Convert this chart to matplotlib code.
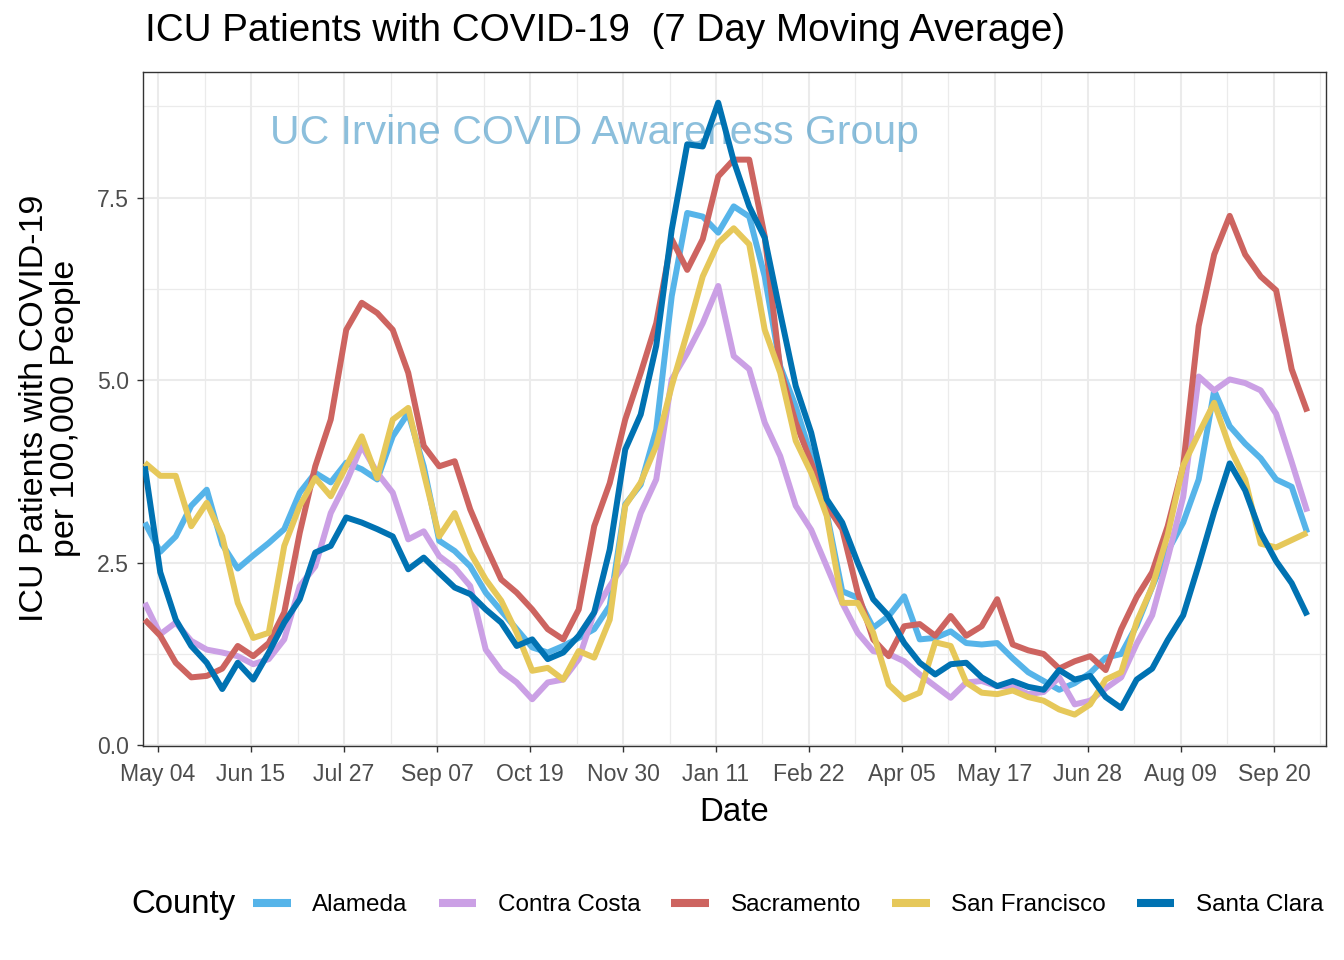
import matplotlib
matplotlib.use("Agg")
import matplotlib.pyplot as plt
import matplotlib.dates as mdates
from matplotlib.lines import Line2D
import pandas as pd

plt.rcParams['font.family'] = ['Liberation Sans', 'DejaVu Sans']

# ---- data (weekly samples) ----
dates = pd.date_range("2020-04-28", periods=76, freq="7D")

alameda = [3.05, 2.65, 2.86, 3.28, 3.5, 2.75, 2.42, 2.6, 2.77, 2.96,
           3.46, 3.73, 3.6, 3.87, 3.78, 3.64, 4.23, 4.55, 3.82, 2.8,
           2.66, 2.45, 2.09, 1.84, 1.59, 1.34, 1.27, 1.36, 1.47, 1.59,
           1.91, 3.3, 3.57, 4.32, 6.15, 7.29, 7.24, 7.02, 7.38, 7.24,
           6.42, 5.19, 4.64, 3.96, 3.18, 2.11, 2.02, 1.61, 1.77, 2.04,
           1.45, 1.47, 1.56, 1.4, 1.38, 1.4, 1.19, 1.0, 0.88, 0.76,
           0.85, 0.99, 1.2, 1.25, 1.64, 2.17, 2.66, 3.05, 3.64, 4.86,
           4.37, 4.13, 3.93, 3.64, 3.54, 2.91]

contra_costa = [1.95, 1.52, 1.68, 1.43, 1.31, 1.27, 1.22, 1.11, 1.18, 1.45,
                2.18, 2.45, 3.18, 3.6, 4.1, 3.73, 3.46, 2.82, 2.93, 2.59,
                2.43, 2.18, 1.31, 1.02, 0.86, 0.63, 0.86, 0.9, 1.18, 1.82,
                2.18, 2.5, 3.18, 3.64, 5.01, 5.37, 5.78, 6.29, 5.33, 5.15,
                4.42, 3.96, 3.28, 2.95, 2.45, 1.95, 1.54, 1.29, 1.25, 1.15,
                0.97, 0.81, 0.65, 0.86, 0.88, 0.81, 0.8, 0.7, 0.73, 0.93,
                0.56, 0.61, 0.78, 0.93, 1.39, 1.78, 2.56, 3.4, 5.05, 4.86,
                5.01, 4.96, 4.86, 4.54, 3.88, 3.2]

sacramento = [1.72, 1.5, 1.13, 0.93, 0.95, 1.05, 1.36, 1.22, 1.4, 1.82,
              2.91, 3.82, 4.46, 5.69, 6.06, 5.92, 5.69, 5.1, 4.1, 3.82,
              3.89, 3.23, 2.73, 2.27, 2.09, 1.86, 1.59, 1.45, 1.86, 3.0,
              3.59, 4.46, 5.1, 5.78, 6.93, 6.51, 6.93, 7.79, 8.02, 8.02,
              6.97, 5.15, 4.42, 3.87, 3.28, 2.96, 2.09, 1.45, 1.22, 1.63,
              1.66, 1.5, 1.77, 1.5, 1.63, 2.0, 1.38, 1.3, 1.25, 1.05,
              1.15, 1.22, 1.03, 1.59, 2.03, 2.37, 3.0, 3.83, 5.74, 6.72,
              7.25, 6.72, 6.42, 6.23, 5.15, 4.57]

san_francisco = [3.87, 3.69, 3.69, 3.0, 3.32, 2.86, 1.95, 1.47, 1.54, 2.73,
                 3.28, 3.66, 3.41, 3.82, 4.23, 3.66, 4.46, 4.62, 3.73, 2.86,
                 3.18, 2.64, 2.27, 1.98, 1.54, 1.02, 1.06, 0.9, 1.29, 1.2,
                 1.72, 3.28, 3.6, 4.1, 4.92, 5.65, 6.42, 6.88, 7.08, 6.86,
                 5.69, 5.1, 4.17, 3.73, 3.14, 1.95, 1.95, 1.54, 0.83, 0.63,
                 0.72, 1.41, 1.36, 0.86, 0.72, 0.7, 0.75, 0.66, 0.61, 0.49,
                 0.42, 0.56, 0.9, 1.0, 1.69, 2.17, 2.88, 3.83, 4.27, 4.69,
                 4.08, 3.64, 2.76, 2.71, 2.81, 2.91]

santa_clara = [3.82, 2.37, 1.72, 1.36, 1.13, 0.77, 1.13, 0.9, 1.27, 1.68,
               2.0, 2.64, 2.73, 3.12, 3.05, 2.96, 2.86, 2.41, 2.57, 2.36,
               2.16, 2.07, 1.86, 1.68, 1.36, 1.45, 1.18, 1.27, 1.5, 1.82,
               2.68, 4.05, 4.53, 5.47, 7.06, 8.23, 8.2, 8.8, 8.0, 7.38,
               6.95, 5.92, 4.92, 4.28, 3.37, 3.05, 2.5, 2.0, 1.77, 1.4,
               1.13, 0.97, 1.11, 1.13, 0.93, 0.81, 0.88, 0.8, 0.76, 1.03,
               0.9, 0.95, 0.66, 0.51, 0.9, 1.05, 1.44, 1.78, 2.47, 3.2,
               3.86, 3.49, 2.91, 2.52, 2.22, 1.78]

counties = ["Alameda", "Contra Costa", "Sacramento", "San Francisco", "Santa Clara"]
series = [alameda, contra_costa, sacramento, san_francisco, santa_clara]
colors = ["#56B4E9", "#CBA0E5", "#CD6460", "#E6C85A", "#0072B2"]

x_ticks = pd.date_range("2020-05-04", periods=13, freq="42D")
x_minor = pd.date_range("2020-05-25", periods=13, freq="42D")
y_ticks = [0.0, 2.5, 5.0, 7.5]
y_minor = [1.25, 3.75, 6.25, 8.75]

# ---- figure ----
fig = plt.figure(figsize=(13.44, 9.6), dpi=100)
ax = fig.add_axes([143/1344, 1-746/960, (1326-143)/1344, (746-72)/960])

ax.text(0.382, 0.91, "UC Irvine COVID Awareness Group", transform=ax.transAxes,
        ha="center", va="center", fontsize=29.5, color="#0072B2", alpha=0.45, zorder=1)

for name, vals, col in zip(counties, series, colors):
    ax.plot(dates, vals, color=col, lw=4.3, solid_capstyle="butt",
            solid_joinstyle="round", zorder=3, label=name)

ax.set_xlim(pd.Timestamp("2020-04-27 05:00"), pd.Timestamp("2021-10-13 12:00"))
ax.set_ylim(-0.01, 9.22)

ax.set_xticks(x_ticks)
ax.set_xticks(x_minor, minor=True)
ax.xaxis.set_major_formatter(mdates.DateFormatter("%b %d"))
ax.set_yticks(y_ticks)
ax.set_yticklabels(["0.0", "2.5", "5.0", "7.5"])
ax.set_yticks(y_minor, minor=True)

ax.grid(which="major", color="#EBEBEB", lw=1.5, zorder=0)
ax.grid(which="minor", color="#EBEBEB", lw=0.9, zorder=0)
ax.set_axisbelow(True)

ax.tick_params(which="major", length=4.5, width=1.0, color="#333333",
               labelsize=16.6, labelcolor="#4D4D4D")
ax.tick_params(axis="x", which="major", pad=7.5)
ax.tick_params(axis="y", which="major", pad=5.5)
ax.tick_params(which="minor", length=0)
for s in ax.spines.values():
    s.set_color("#333333")
    s.set_linewidth(1.0)

ax.set_xlabel("Date", fontsize=23.8, labelpad=8)

fig.text(50/1344, 1-408/960, "ICU Patients with COVID-19\nper 100,000 People",
         rotation=90, ha="center", va="center", fontsize=24.5,
         multialignment="center", linespacing=1.0)

fig.text(145/1344, 1-31/960, "ICU Patients with COVID-19  (7 Day Moving Average)",
         ha="left", va="center", fontsize=27.8)

# legend
handles = [Line2D([0], [0], color=c, lw=5.8, solid_capstyle="butt") for c in colors]
fig.text(131/1344, 1-905/960, "County", ha="left", va="center", fontsize=23.8)
fig.legend(handles, counties, loc="center left", bbox_to_anchor=(253/1344, 1-905/960),
           ncol=5, frameon=False, fontsize=17.5, handlelength=1.55, handletextpad=0.88,
           columnspacing=1.28, borderpad=0, borderaxespad=0)

fig.savefig("out.png", dpi=100)
